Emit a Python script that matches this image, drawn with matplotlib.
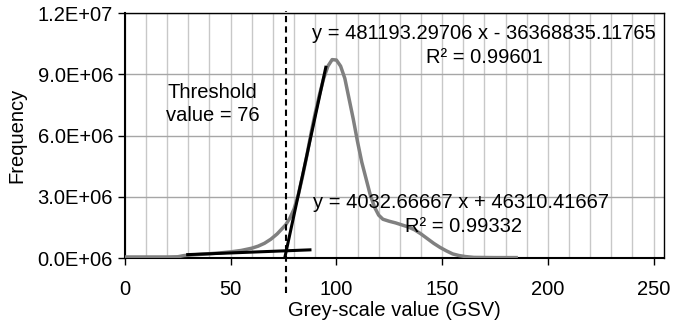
import numpy as np
import matplotlib
matplotlib.use("Agg")
import matplotlib.pyplot as plt
from matplotlib.ticker import MultipleLocator, FuncFormatter

plt.rcParams['font.family'] = ['Liberation Sans', 'DejaVu Sans']

# grey-scale histogram
gsv = [0, 10, 20, 25, 28, 32, 36, 40, 45, 50, 55, 60, 63, 66, 69, 72, 74, 76, 78, 80,
       82, 84, 86, 88, 90, 92, 94, 96, 98, 100, 102, 104, 106, 108, 110, 112, 114, 116,
       118, 120, 122, 125, 128, 131, 134, 137, 140, 143, 146, 149, 152, 155, 158, 161,
       165, 175, 185]
freq = [0.05, 0.05, 0.05, 0.06, 0.12, 0.15, 0.18, 0.21, 0.25, 0.30, 0.37, 0.48, 0.58,
        0.72, 0.92, 1.18, 1.40, 1.62, 1.95, 2.40, 3.1, 4.0, 5.0, 6.1, 7.1, 8.0, 8.8, 9.4,
        9.72, 9.7, 9.4, 8.8, 7.8, 6.8, 5.7, 4.7, 3.9, 3.1, 2.5, 2.1, 1.9, 1.8, 1.72, 1.62,
        1.52, 1.38, 1.18, 0.95, 0.72, 0.52, 0.35, 0.2, 0.12, 0.07, 0.03, 0.02, 0.02]
freq = np.array(freq) * 1e6

# trendlines
fit1_x = [75.6, 95.0]
fit1_a, fit1_b = 481193.29706, -36368835.11765
fit2_x = [29.7, 87.5]
fit2_a, fit2_b = 4032.66667, 46310.41667
threshold = 76

fs = 14.5

fig = plt.figure(figsize=(6.75, 3.27), dpi=100)
ax = fig.add_axes([0.185, 0.211, 0.799, 0.749])

ax.plot(gsv, freq, color='#808080', lw=2.5, zorder=3)
for xs, a, b in [(fit1_x, fit1_a, fit1_b), (fit2_x, fit2_a, fit2_b)]:
    xs = np.array(xs)
    ax.plot(xs, a * xs + b, color='black', lw=2.2, zorder=4)

ax.axvline(threshold, ymin=-0.143, ymax=1.01, color='black', ls=(0, (3, 2)),
           lw=1.5, clip_on=False, zorder=5)

ax.set_xlim(0, 255)
ax.set_ylim(0, 1.2e7)
ax.xaxis.set_major_locator(MultipleLocator(50))
ax.xaxis.set_minor_locator(MultipleLocator(10))
ax.yaxis.set_major_locator(MultipleLocator(3e6))
ax.yaxis.set_major_formatter(FuncFormatter(lambda v, p: '%.1fE+%02d' % (v / 10 ** (7 if v >= 1e7 else 6), 7 if v >= 1e7 else 6)))
ax.grid(which='minor', axis='x', color='#c8c8c8', lw=1)
ax.grid(which='major', axis='x', color='#c8c8c8', lw=1)
ax.grid(which='major', axis='y', color='#a6a6a6', lw=1)
ax.set_axisbelow(True)
ax.tick_params(which='minor', length=0)
ax.tick_params(which='major', direction='out', length=5, width=1, labelsize=fs, color='black')
ax.tick_params(axis='x', which='major', pad=11)
for s in ax.spines.values():
    s.set_color('black')
    s.set_linewidth(1)
ax.spines['left'].set_linewidth(1.5)
ax.spines['bottom'].set_linewidth(1.5)

ax.set_xlabel('Grey-scale value (GSV)', fontsize=fs, labelpad=1)
ax.set_ylabel('Frequency', fontsize=fs, labelpad=8)

ax.text(41.6, 7.54e6, 'Threshold\nvalue = 76', fontsize=fs, ha='center', va='center',
        linespacing=1.25)
ax.text(169.7, 1.102e7, 'y = 481193.29706 x - 36368835.11765', fontsize=fs,
        ha='center', va='center')
ax.text(170, 9.84e6, 'R² = 0.99601', fontsize=fs, ha='center', va='center')
ax.text(158.9, 2.74e6, 'y = 4032.66667 x + 46310.41667', fontsize=fs,
        ha='center', va='center')
ax.text(160, 1.52e6, 'R² = 0.99332', fontsize=fs, ha='center', va='center')

fig.savefig('out.png', dpi=100)
